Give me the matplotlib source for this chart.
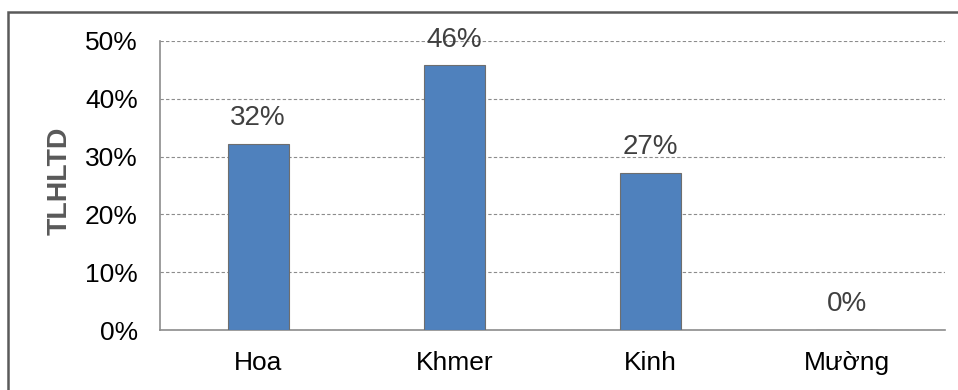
import matplotlib
matplotlib.use("Agg")
import matplotlib.pyplot as plt
from matplotlib.patches import Rectangle
from matplotlib.ticker import FuncFormatter

categories = ["Hoa", "Khmer", "Kinh", "Mường"]
values = [32.2, 45.8, 27.2, 0.0]
value_labels = ["32%", "46%", "27%", "0%"]
yticks = [0, 10, 20, 30, 40, 50]

plt.rcParams['font.family'] = ['Liberation Sans', 'DejaVu Sans']

W, H = 958, 390
fig = plt.figure(figsize=(W / 100, H / 100), dpi=100)
ax = fig.add_axes([160 / W, 1 - 330 / H, (945 - 160) / W, (330 - 41) / H])

x = list(range(len(categories)))
ax.bar(x, values, width=0.31, color="#4F81BD", edgecolor="#6E6E6E", linewidth=0.8, zorder=3)
for xi, v, lab in zip(x, values, value_labels):
    ax.annotate(lab, (xi, v), xytext=(0, 13.5), textcoords="offset points",
                ha="center", va="baseline", fontsize=20, color="#404040", zorder=4)

ax.set_xlim(-0.5, len(categories) - 0.5)
ax.set_ylim(0, 50)
ax.set_yticks(yticks)
ax.yaxis.set_major_formatter(FuncFormatter(lambda v, p: f"{int(v)}%"))
ax.set_xticks(x)
ax.set_xticklabels(categories)
ax.tick_params(axis="both", length=0, labelsize=19, colors="black")
ax.tick_params(axis="y", pad=16)
ax.tick_params(axis="x", pad=15)

ax.grid(axis="y", linestyle=(0, (3, 2)), color="#8C8C8C", linewidth=0.8, zorder=0)
for s in ["top", "right"]:
    ax.spines[s].set_visible(False)
for s in ["left", "bottom"]:
    ax.spines[s].set_color("#8C8C8C")
    ax.spines[s].set_linewidth(1.2)

fig.text(60 / W, 1 - 181 / H, "TLHLTD", rotation=90, ha="center", va="center",
         fontsize=20.5, fontweight="bold", color="#595959")

fig.patches.append(Rectangle((8 / W, -0.1), 1.0, 1.1 - 12 / H, transform=fig.transFigure,
                             fill=False, edgecolor="#5A5A5A", linewidth=1.8))

fig.savefig("out.png", dpi=100)
